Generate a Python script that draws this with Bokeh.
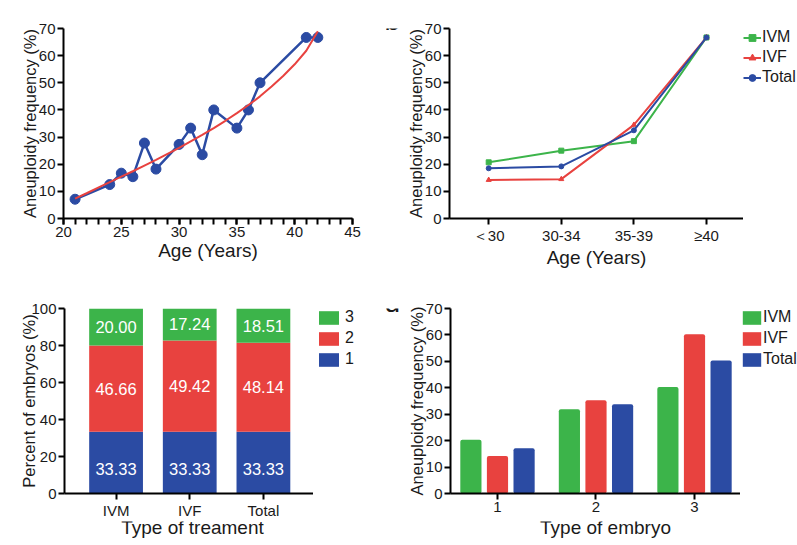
from bokeh.plotting import figure
from bokeh.layouts import column, row
from bokeh.models import Legend, LegendItem, Label, FixedTicker, Range1d
from bokeh.core.properties import value
from bokeh.embed import file_html
from bokeh.resources import INLINE

FONT = "Liberation Sans"
GREEN = "#3cb44a"
RED = "#e8423f"
BLUE = "#2b4ba3"
INK = "#1a1a1a"

# panel a: aneuploidy by single age
ages = [21, 24, 25, 26, 27, 28, 30, 31, 32, 33, 35, 36, 37, 41, 42]
age_rate = [7.1, 12.5, 16.7, 15.4, 27.8, 18.2, 27.3, 33.3, 23.5, 40.0, 33.3, 40.0, 50.0, 66.7, 66.7]
# fitted curve
fit_age = [21, 22, 23, 24, 25, 26, 27, 28, 29, 30, 31, 32, 33, 34, 35, 36, 37, 38, 39, 40, 41, 42]
fit_rate = [7.3, 9.3, 11.4, 13.4, 15.4, 17.4, 19.5, 21.6, 23.8, 26.0, 28.4, 30.8, 33.3,
            36.0, 38.8, 41.8, 45.0, 48.6, 52.5, 56.8, 61.8, 69.0]

# panel b: by age group
age_groups = ["\uff1c30", "30-34", "35-39", "\u226540"]
b_ivm = [20.7, 25.0, 28.5, 66.7]
b_ivf = [14.2, 14.5, 34.5, 66.7]
b_total = [18.5, 19.2, 32.5, 66.7]

# panel c: share of embryo types per treatment
treatments = ["IVM", "IVF", "Total"]
c_type1 = [33.33, 33.33, 33.33]
c_type2 = [46.66, 49.42, 48.14]
c_type3 = [20.00, 17.24, 18.51]

# panel d: aneuploidy by embryo type
embryo_types = [1, 2, 3]
d_ivm = [20.3, 31.9, 40.3]
d_ivf = [14.2, 35.3, 60.3]
d_total = [17.1, 33.8, 50.3]


def style(p, xlabel, ylabel, x_standoff=0, y_standoff=-3):
    p.outline_line_color = None
    p.grid.visible = False
    p.background_fill_color = None
    p.border_fill_color = None
    for ax in p.axis:
        ax.axis_line_width = 2
        ax.axis_line_color = "black"
        ax.major_tick_line_width = 2
        ax.major_tick_line_color = "black"
        ax.major_tick_out = 6
        ax.major_tick_in = 0
        ax.minor_tick_line_color = None
        ax.major_label_text_font = FONT
        ax.major_label_text_font_size = "15px"
        ax.major_label_text_color = INK
        ax.major_label_standoff = 2
        ax.axis_label_text_font = FONT
        ax.axis_label_text_font_style = "normal"
        ax.axis_label_text_color = INK
    if xlabel:
        p.xaxis.axis_label = xlabel
    p.yaxis.axis_label = ylabel
    p.xaxis.axis_label_text_font_size = "19px"
    p.yaxis.axis_label_text_font_size = "16.5px"
    p.xaxis.axis_label_standoff = x_standoff
    p.yaxis.axis_label_standoff = y_standoff


def blank(w, h, xr, yr, **borders):
    s = figure(width=w, height=h, output_backend="svg", toolbar_location=None,
               x_range=xr, y_range=yr, x_axis_location=None, y_axis_location=None,
               min_border=0, **borders)
    s.outline_line_color = None
    s.grid.visible = False
    s.background_fill_color = None
    s.border_fill_color = None
    return s


def strip(w, h, texts, size="28px", align="left"):
    # axis-less figure holding free text (panel letters, lower axis titles)
    s = blank(w, h, Range1d(0, w), Range1d(h, 0))
    for txt, x, y in texts:
        s.add_layout(Label(x=x, y=y, text=txt, text_font=FONT, text_font_size=size,
                           text_color=INK, text_baseline="alphabetic", text_align=align))
    return s


def legend_box(w, h, top, left):
    # ranges sit below zero, so the series drawn here only feed the legend swatches
    return blank(w, h, Range1d(-2, -1), Range1d(-2, -1), min_border_top=top, min_border_left=left)


def make_legend(items, glyph_w, glyph_h, standoff, spacing):
    return Legend(items=items, location="top_left", orientation="vertical",
                  border_line_color=None, background_fill_alpha=0,
                  padding=0, margin=0, spacing=spacing,
                  glyph_width=glyph_w, glyph_height=glyph_h, label_standoff=standoff,
                  label_text_font=FONT, label_text_font_size="16px",
                  label_text_color=INK, label_height=17, inactive_fill_alpha=0)


# ---------- a ----------
pa = figure(width=368, height=275, output_backend="svg", toolbar_location=None,
            x_range=Range1d(20, 45), y_range=Range1d(0, 70),
            min_border_left=46, min_border_right=33, min_border_top=28, min_border_bottom=57)
style(pa, "Age (Years)", "Aneuploidy frequency (%)")
pa.xaxis.ticker = FixedTicker(ticks=[20, 25, 30, 35, 40, 45], minor_ticks=list(range(20, 46)))
pa.xaxis.minor_tick_line_color = "black"
pa.xaxis.minor_tick_line_width = 2
pa.xaxis.minor_tick_out = 6
pa.xaxis.minor_tick_in = 0
pa.yaxis.ticker = FixedTicker(ticks=[0, 10, 20, 30, 40, 50, 60, 70])
pa.line(ages, age_rate, line_color=BLUE, line_width=2.5)
pa.scatter(ages, age_rate, size=10, fill_color=BLUE, line_color=BLUE)
pa.line(fit_age, fit_rate, line_color=RED, line_width=2)

# ---------- b ----------
gx = list(range(len(age_groups)))
b_series = [("IVM", b_ivm, GREEN, "square"), ("IVF", b_ivf, RED, "triangle"),
            ("Total", b_total, BLUE, "circle")]
pb = figure(width=340, height=275, output_backend="svg", toolbar_location=None,
            x_range=Range1d(-0.54, 3.51), y_range=Range1d(0, 70),
            min_border_left=46, min_border_right=0, min_border_top=28, min_border_bottom=57)
style(pb, "Age (Years)", "Aneuploidy frequency (%)")
pb.xaxis.ticker = FixedTicker(ticks=gx)
pb.xaxis.major_label_overrides = {i: g for i, g in enumerate(age_groups)}
pb.yaxis.ticker = FixedTicker(ticks=[0, 10, 20, 30, 40, 50, 60, 70])
for name, vals, col, mk in b_series:
    pb.line(gx, vals, line_color=col, line_width=2)
    pb.scatter(gx, vals, marker=mk, size=5, color=col)

lb = legend_box(54, 275, 28, 0)
b_items = []
for name, vals, col, mk in b_series:
    b_items.append(LegendItem(label=name, renderers=[
        lb.line(gx, vals, line_color=col, line_width=2),
        lb.scatter(gx, vals, marker=mk, size=5, color=col)]))
lb.add_layout(make_legend(b_items, 18, 17, 1, 2))

# ---------- c ----------
cx = list(range(len(treatments)))
pc = figure(width=296, height=246, output_backend="svg", toolbar_location=None,
            x_range=Range1d(-0.70, 2.68), y_range=Range1d(0, 100),
            min_border_left=46, min_border_right=0, min_border_top=33, min_border_bottom=24)
style(pc, None, "Percent of embryos (%)", y_standoff=-10)
pc.xaxis.ticker = FixedTicker(ticks=cx)
pc.xaxis.major_label_overrides = {i: t for i, t in enumerate(treatments)}
pc.yaxis.ticker = FixedTicker(ticks=[0, 20, 40, 60, 80, 100])
top1 = c_type1
top2 = [a + b for a, b in zip(c_type1, c_type2)]
top3 = [a + b for a, b in zip(top2, c_type3)]
pc.vbar(x=cx, width=0.73, bottom=0, top=top1, fill_color=BLUE, line_color=None)
pc.vbar(x=cx, width=0.73, bottom=top1, top=top2, fill_color=RED, line_color=None)
pc.vbar(x=cx, width=0.73, bottom=top2, top=top3, fill_color=GREEN, line_color=None)
label_kw = dict(text_align="center", text_baseline="middle", text_color="white",
                text_font=value(FONT), text_font_size="16.5px")
pc.text(cx, [v * 0.4 for v in c_type1], text=[f"{v:.2f}" for v in c_type1], **label_kw)
pc.text(cx, [(a + b) / 2 for a, b in zip(top1, top2)], text=[f"{v:.2f}" for v in c_type2], **label_kw)
pc.text(cx, [(a + b) / 2 for a, b in zip(top2, top3)], text=[f"{v:.2f}" for v in c_type3], **label_kw)

lc = legend_box(72, 246, 13, 3)
c_items = [LegendItem(label=name, renderers=[lc.vbar(x=cx, top=vals, width=0.73, fill_color=col, line_color=None)])
           for name, vals, col in [("3", c_type3, GREEN), ("2", c_type2, RED), ("1", c_type1, BLUE)]]
lc.add_layout(make_legend(c_items, 25, 17, 4, 3))

# ---------- d ----------
d_series = [("IVM", d_ivm, GREEN, -0.27), ("IVF", d_ivf, RED, 0.0), ("Total", d_total, BLUE, 0.27)]
pd_ = figure(width=337, height=246, output_backend="svg", toolbar_location=None,
             x_range=Range1d(0.523, 3.467), y_range=Range1d(0, 70),
             min_border_left=47, min_border_right=0, min_border_top=28, min_border_bottom=25)
style(pd_, None, "Aneuploidy frequency (%)")
pd_.xaxis.ticker = FixedTicker(ticks=embryo_types)
pd_.yaxis.ticker = FixedTicker(ticks=[0, 10, 20, 30, 40, 50, 60, 70])
for name, vals, col, off in d_series:
    pd_.vbar(x=[t + off for t in embryo_types], width=0.215, top=vals,
             fill_color=col, line_color=None, border_radius=2)

ld = legend_box(57, 246, 11, 0)
d_items = [LegendItem(label=name, renderers=[ld.vbar(x=embryo_types, top=vals, width=0.215,
                                                     fill_color=col, line_color=None)])
           for name, vals, col, off in d_series]
ld.add_layout(make_legend(d_items, 23, 17, 0, 3))

# the label anchor lands about one line lower than asked, so the y values are pulled up
top_row = row(strip(17, 275, [("a", -1, -15)]), pa, strip(18, 275, [("b", -1, -12)]), pb, lb)
bottom_row = row(strip(17, 246, [("c", -1, -17)]), pc, lc, strip(18, 246, [("d", -1, -8)]), pd_, ld)
# titles of the two lower x axes
x_titles = strip(797, 24, [("Type of treament", 192, 6), ("Type of embryo", 605, 6)],
                 size="19px", align="center")
layout = column(top_row, bottom_row, x_titles)
open("out.html", "w").write(file_html(layout, INLINE))
